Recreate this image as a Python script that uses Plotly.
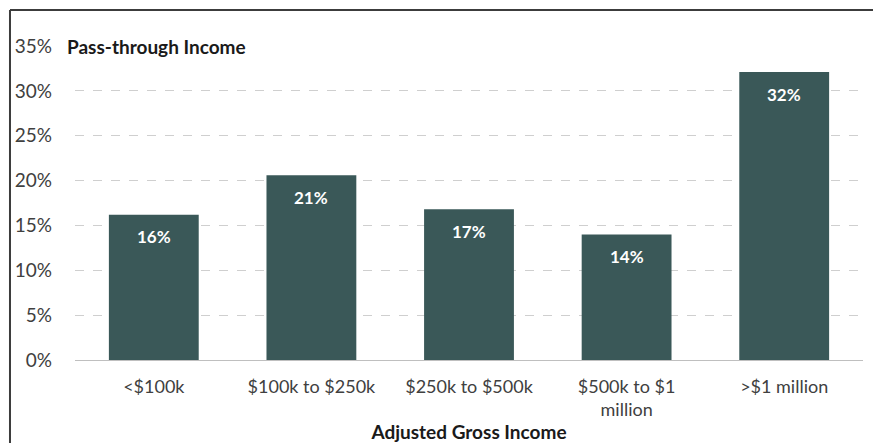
import plotly.graph_objects as go

categories = ["<$100k", "$100k to $250k", "$250k to $500k", "$500k to $1<br>million", ">$1 million"]
values = [16.2, 20.6, 16.8, 14.0, 32.1]
labels = ["16%", "21%", "17%", "14%", "32%"]
y_ticks = [0, 5, 10, 15, 20, 25, 30, 35]
y_tick_text = ["0%", "5%", "10%", "15%", "20%", "25%", "30%", "35%"]

FONT = "Lato, 'Open Sans', sans-serif"
BAR = "#3a5858"
TXT = "#404040"

fig = go.Figure()
fig.add_trace(go.Bar(
    x=categories, y=values, marker=dict(color=BAR, line=dict(width=0)),
    width=0.57, hoverinfo="skip",
))

for c, v, t in zip(categories, values, labels):
    fig.add_annotation(x=c, y=v, text=f"<b>{t}</b>", showarrow=False,
                       yshift=-22, font=dict(family=FONT, size=17, color="white"))

fig.add_annotation(xref="paper", yref="paper", x=-0.018, y=1.0, xanchor="left",
                   yanchor="middle", text="<b>Pass-through Income</b>", showarrow=False,
                   bgcolor="white", borderpad=5,
                   font=dict(family=FONT, size=19, color="#1a1a1a"))

# outer frame (top and left edges; the others fall outside the picture)
fig.add_shape(type="line", xref="paper", yref="paper",
              x0=-0.0825, x1=1.2, y0=1.1146, y1=1.1146,
              line=dict(color="#3c3c3c", width=2), layer="above")
fig.add_shape(type="line", xref="paper", yref="paper",
              x0=-0.0825, x1=-0.0825, y0=-0.5, y1=1.1146,
              line=dict(color="#3c3c3c", width=2), layer="above")

fig.update_layout(
    width=873, height=443,
    margin=dict(l=75, r=10, t=46, b=83, autoexpand=False),
    paper_bgcolor="white", plot_bgcolor="white",
    showlegend=False, bargap=0.43,
    font=dict(family=FONT, size=18, color=TXT),
    xaxis=dict(
        showgrid=False, showline=True, linecolor="#bfbfbf", linewidth=1,
        tickfont=dict(size=18, color=TXT), ticks="", fixedrange=True, automargin=False,
        ticklabelstandoff=10,
        title=dict(text="<b>Adjusted Gross Income</b>", font=dict(size=19, color="#1a1a1a"), standoff=8),
    ),
    yaxis=dict(
        range=[0, 35], tickvals=y_ticks, ticktext=y_tick_text,
        showgrid=True, gridcolor="#cfcfcf", griddash="dash", gridwidth=1,
        zeroline=False, showline=False, ticks="", ticklabelstandoff=22,
        tickfont=dict(size=19, color=TXT), fixedrange=True, automargin=False,
    ),
)

fig.write_html("out.html", config={"displayModeBar": False},
               post_script="document.body.style.margin='0';document.body.style.overflow='hidden';")
